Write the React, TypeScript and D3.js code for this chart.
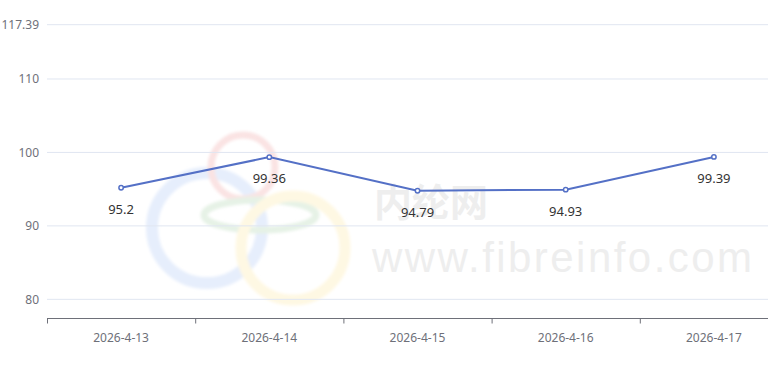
import React from "react";
import * as d3 from "d3";

const categories = ["2026-4-13", "2026-4-14", "2026-4-15", "2026-4-16", "2026-4-17"];
const values = [95.2, 99.36, 94.79, 94.93, 99.39];
const yTicks = [80, 90, 100, 110, 117.39];
const yMin = 77.39;
const yMax = 117.39;

const W = 768;
const H = 366;

export default function App() {
  const x = d3.scaleBand<string>().domain(categories).range([47, 788]);
  const y = d3.scaleLinear().domain([yMin, yMax]).range([318.5, 24.7]);
  const line = d3
    .line<number>()
    .x((_, i) => (x(categories[i]) as number) + x.bandwidth() / 2)
    .y((d) => y(d));
  const font = "'Microsoft YaHei', 'Noto Sans', sans-serif";
  return (
    <svg
      width={W}
      height={H}
      style={{ position: "absolute", left: 0, top: 0, background: "#fff" }}
      fontFamily={font}
    >
      <defs>
        <filter id="soft" x="-20%" y="-20%" width="140%" height="140%">
          <feGaussianBlur stdDeviation="1.5" />
        </filter>
      </defs>
      {/* watermark */}
      <g fill="none" filter="url(#soft)">
        <circle cx={207} cy={228} r={55} stroke="#e6eefc" strokeWidth={12} />
        <circle cx={243} cy={167} r={32} stroke="#fae3e3" strokeWidth={7} />
        <ellipse cx={260} cy={215} rx={56} ry={15} stroke="#e6f2e6" strokeWidth={7} />
        <circle cx={293} cy={248} r={52} stroke="#fef8e3" strokeWidth={11} />
      </g>
      <text x={374} y={216} fontSize={38} fontWeight="bold" fill="#eeeeee" fontFamily="'Noto Sans CJK SC', sans-serif">
        内纶网
      </text>
      <text x={372} y={272} fontSize={42} fill="#eeeeee" fontFamily="'Liberation Sans', Arial, sans-serif" textLength={380}>
        www.fibreinfo.com
      </text>
      {/* grid */}
      {yTicks.map((t) => (
        <g key={t}>
          <line x1={47} x2={768} y1={y(t)} y2={y(t)} stroke="#e0e6f1" strokeWidth={1} />
          <text x={39} y={y(t)} dy="0.35em" textAnchor="end" fontSize={12} fill="#6e7079">
            {t}
          </text>
        </g>
      ))}
      {/* x axis */}
      <line x1={47} x2={788} y1={318.5} y2={318.5} stroke="#6e7079" strokeWidth={1} />
      {categories.map((c) => (
        <g key={c}>
          <line x1={(x(c) as number) + 0.5} x2={(x(c) as number) + 0.5} y1={318.5} y2={323.5} stroke="#6e7079" />
          <text x={(x(c) as number) + x.bandwidth() / 2} y={342} textAnchor="middle" fontSize={12} fill="#6e7079">
            {c}
          </text>
        </g>
      ))}
      {/* line */}
      <path d={line(values) || ""} fill="none" stroke="#5470c6" strokeWidth={2} />
      {values.map((v, i) => {
        const cx = (x(categories[i]) as number) + x.bandwidth() / 2;
        return (
          <g key={i}>
            <circle cx={cx} cy={y(v)} r={2.2} fill="#fff" stroke="#5470c6" strokeWidth={1.5} />
            <text x={cx} y={y(v) + 26} textAnchor="middle" fontSize={13} fill="#333">
              {v}
            </text>
          </g>
        );
      })}
    </svg>
  );
}
